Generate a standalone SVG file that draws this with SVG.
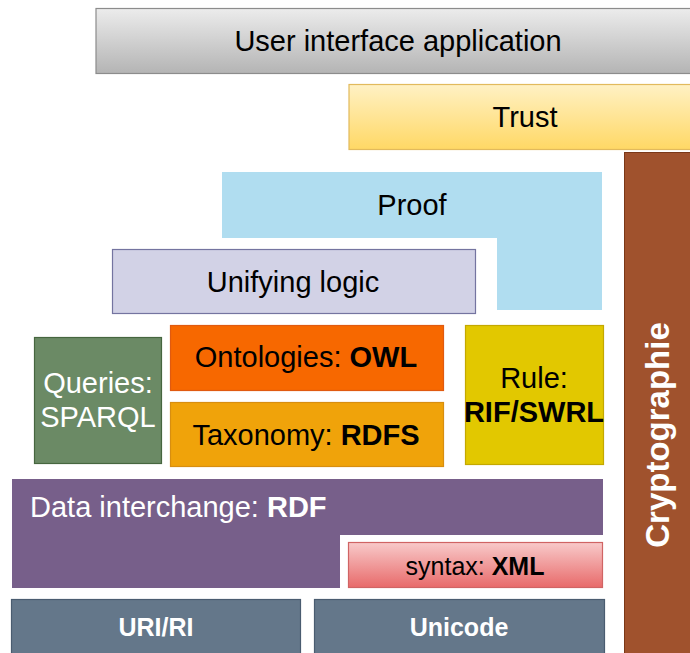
<svg xmlns="http://www.w3.org/2000/svg" width="690" height="653" viewBox="0 0 690 653">
  <defs>
    <linearGradient id="gUI" x1="0" y1="0" x2="0" y2="1">
      <stop offset="0" stop-color="#ececec"/>
      <stop offset="1" stop-color="#b4b4b4"/>
    </linearGradient>
    <linearGradient id="gTrust" x1="0" y1="0" x2="0" y2="1">
      <stop offset="0" stop-color="#fff1c4"/>
      <stop offset="1" stop-color="#ffd865"/>
    </linearGradient>
    <linearGradient id="gXML" x1="0" y1="0" x2="0" y2="1">
      <stop offset="0" stop-color="#f8caca"/>
      <stop offset="1" stop-color="#e86a6a"/>
    </linearGradient>
  </defs>
  <style>
    text { font-family: "Liberation Sans", Arial, sans-serif; font-size: 29px; text-anchor: middle; }
    .dark { fill: #000000; }
    .light { fill: #ffffff; }
    .b { font-weight: bold; }
  </style>

  <rect x="0" y="0" width="690" height="653" fill="#ffffff"/>

  <g id="ui">
    <rect x="96" y="8.5" width="600" height="65" fill="url(#gUI)" stroke="#8c8c8c" stroke-width="1.2"/>
    <text class="dark" x="398" y="51">User interface application</text>
  </g>

  <g id="trust">
    <rect x="349" y="84.5" width="350" height="65" fill="url(#gTrust)" stroke="#e2ba5c" stroke-width="1.2"/>
    <text class="dark" x="525" y="127">Trust</text>
  </g>

  <g id="crypto">
    <rect x="624.5" y="152.5" width="70" height="505" fill="#a0522d" stroke="#7a3818" stroke-width="1"/>
    <text class="light b" transform="translate(669 435) rotate(-90)" style="font-size:33px">Cryptographie</text>
  </g>

  <g id="proof">
    <path d="M222 172 H602 V310 H497 V238 H222 Z" fill="#b0ddf0"/>
    <text class="dark" x="412" y="215">Proof</text>
  </g>

  <g id="logic">
    <rect x="112.5" y="249.5" width="363" height="64" fill="#d2d2e6" stroke="#7474a0" stroke-width="1.2"/>
    <text class="dark" x="293" y="292">Unifying logic</text>
  </g>

  <g id="sparql">
    <rect x="34.5" y="337.5" width="127" height="126" fill="#6b8a65" stroke="#46663f" stroke-width="1.2"/>
    <text class="light" x="98" y="393">Queries:</text>
    <text class="light" x="98" y="427">SPARQL</text>
  </g>

  <g id="owl">
    <rect x="170.5" y="325.5" width="273" height="65" fill="#f76800" stroke="#e05a10" stroke-width="1.2"/>
    <text class="dark" x="306" y="367">Ontologies: <tspan class="b">OWL</tspan></text>
  </g>

  <g id="rdfs">
    <rect x="170.5" y="402.5" width="273" height="64" fill="#f0a30a" stroke="#d88e10" stroke-width="1.2"/>
    <text class="dark" x="306" y="445">Taxonomy: <tspan class="b">RDFS</tspan></text>
  </g>

  <g id="rule">
    <rect x="465.5" y="325.5" width="138" height="139" fill="#e2c800" stroke="#c4a800" stroke-width="1.2"/>
    <text class="dark" x="534" y="388">Rule:</text>
    <text class="dark b" x="534" y="422">RIF/SWRL</text>
  </g>

  <g id="rdf">
    <path d="M12 479 H603 V535 H340 V588 H12 Z" fill="#775f8a"/>
    <text class="light" x="30" y="517" style="text-anchor:start">Data interchange: <tspan class="b">RDF</tspan></text>
  </g>

  <g id="xml">
    <rect x="348.5" y="542.5" width="254" height="45" fill="url(#gXML)" stroke="#d06464" stroke-width="1.2"/>
    <text class="dark" x="475" y="575" style="font-size:25px">syntax: <tspan class="b">XML</tspan></text>
  </g>

  <g id="uri">
    <rect x="11.5" y="599.5" width="289" height="60" fill="#64778a" stroke="#4a5c70" stroke-width="1.2"/>
    <text class="light b" x="156" y="636" style="font-size:25px">URI/RI</text>
  </g>

  <g id="unicode">
    <rect x="314.5" y="599.5" width="290" height="60" fill="#64778a" stroke="#4a5c70" stroke-width="1.2"/>
    <text class="light b" x="459" y="636" style="font-size:25px">Unicode</text>
  </g>

  <g id="connectors"/>
</svg>
